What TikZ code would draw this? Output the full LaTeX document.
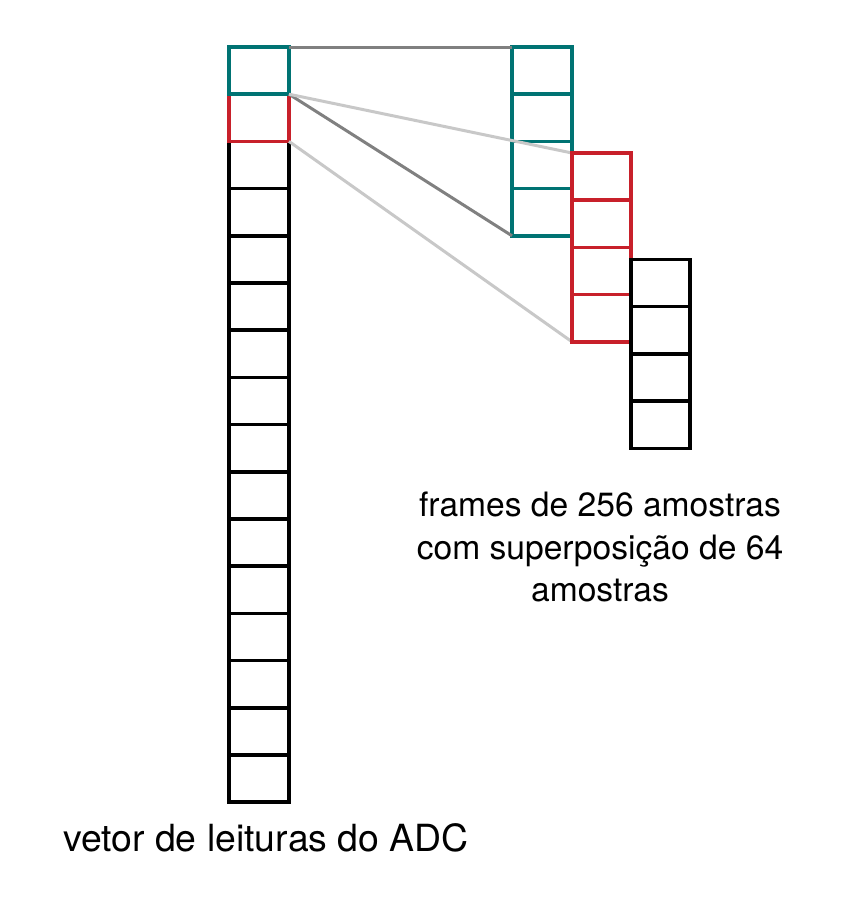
\documentclass[tikz,border=0pt]{standalone}
\usepackage{fontspec}
\setmainfont{TeX Gyre Heros}
\definecolor{tealc}{RGB}{0,115,115}
\definecolor{redc}{RGB}{200,32,42}
\definecolor{darkg}{RGB}{128,128,128}
\definecolor{lightg}{RGB}{200,200,200}
\pgfdeclarelayer{front}
\pgfsetlayers{main,front}
\tikzset{
  cellbox/.style={draw, rectangle, line width=3.5pt, minimum height=47.2pt, inner sep=0pt, outer sep=0pt},
  wcol/.style={minimum width=60pt},
  ncol/.style={minimum width=59pt},
  tealcell/.style={cellbox, draw=tealc},
  redcell/.style={cellbox, draw=redc},
  blackcell/.style={cellbox, draw=black},
  darkline/.style={draw=darkg, line width=3pt},
  lightline/.style={draw=lightg, line width=3pt},
  lbl/.style={inner sep=0pt, outer sep=0pt, text=black}
}
\begin{document}
\begin{tikzpicture}[x=1pt,y=-1pt]
\useasboundingbox (0,0) rectangle (845,924);
% left column (ADC vector)
\foreach \i in {3,...,16} {
  \node[blackcell, wcol] (L\i) at (259,{47+47.2*(\i-0.5)}) {};
}
\node[redcell, wcol] (L2) at (259,{47+47.2*1.5}) {};
\node[tealcell, wcol] (L1) at (259,{47+47.2*0.5}) {};
% frames 2 and 3 on the front layer
\begin{pgfonlayer}{front}
\foreach \i in {1,...,4} {
  \node[redcell, ncol] (R\i) at (601.5,{153+47.2*(\i-0.5)}) {};
}
\foreach \i in {1,...,4} {
  \node[blackcell, ncol] (B\i) at (660.5,{259.5+47.2*(\i-0.5)}) {};
}
\end{pgfonlayer}
% frame 1 (teal)
\foreach \i in {1,...,4} {
  \node[tealcell, wcol] (T\i) at (542,{47+47.2*(\i-0.5)}) {};
}
% connectors
\draw[darkline] (L1.north east) -- (T1.north west);
\draw[darkline] (L2.north east) -- (T4.south west);
\draw[lightline] (L2.north east) -- (R1.north west);
\draw[lightline] (L2.south east) -- (R4.south west);
% labels
\node[lbl, align=center, anchor=north, font=\fontsize{33.6}{42.5}\selectfont] (frames) at (600,492)
  {frames de 256 amostras\\com superposição de 64\\amostras};
\node[lbl, anchor=base, font=\fontsize{37.4}{45}\selectfont] (adc) at (266,851) {vetor de leituras do ADC};
\end{tikzpicture}
\end{document}
